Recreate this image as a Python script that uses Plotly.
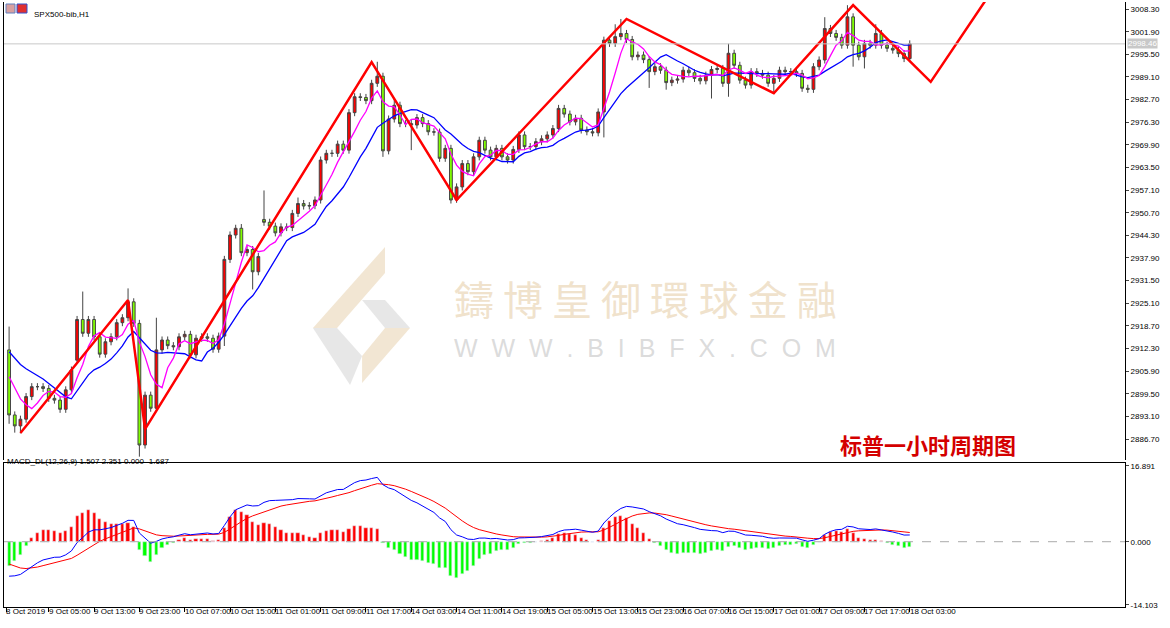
import plotly.graph_objects as go
import pandas as pd
import numpy as np

# ---------------- data ----------------
first_open = 2911.9
closes = [
 2893.5,2890.4,2892.3,2898.7,2901.5,2901.5,2901.0,2898.2,2897.7,2895.1,
 2900.6,2906.2,2920.5,2916.6,2920.5,2915.6,2910.7,2914.2,2915.6,2919.6,
 2921.0,2925.5,2919.4,2885.0,2899.1,2895.4,2911.9,2914.7,2913.1,2912.8,
 2915.6,2916.3,2910.5,2915.2,2915.6,2915.2,2912.1,2915.8,2937.5,2944.4,
 2946.3,2939.4,2940.3,2934.0,2938.3,2948.0,2946.9,2945.0,2946.7,2946.5,
 2950.5,2953.3,2952.6,2952.7,2954.3,2965.6,2967.5,2967.5,2970.1,2968.4,
 2979.0,2983.5,2983.3,2982.4,2987.3,2989.3,2968.2,2977.2,2981.1,2975.9,
 2975.9,2975.5,2977.6,2975.9,2973.6,2973.5,2966.1,2968.9,2954.3,2958.0,
 2964.6,2962.3,2966.5,2971.2,2968.4,2966.5,2968.9,2966.5,2965.6,2968.6,
 2972.7,2969.4,2969.4,2970.8,2971.6,2972.7,2974.5,2980.2,2978.6,2976.4,
 2977.4,2974.1,2973.6,2973.3,2979.2,2999.5,2998.6,3000.5,3001.4,2999.7,
 2994.8,2995.3,2994.0,2990.6,2992.0,2991.0,2987.5,2988.2,2988.5,2991.0,
 2990.3,2988.7,2988.0,2989.6,2991.2,2991.5,2987.3,2995.8,2992.4,2988.2,
 2986.8,2990.6,2990.1,2989.6,2987.3,2988.7,2991.0,2990.6,2990.6,2990.1,
 2985.9,2985.6,2992.0,2993.9,3002.8,3001.4,3000.3,2998.1,3006.1,2998.1,
 2994.8,2998.6,2998.1,3001.4,2998.1,2997.2,2996.7,2995.7,2994.3,2998.46,
]
open_gaps = {45: 2948.8, 12: 2909.0}
high_override = {0: 2918.5, 13: 2928.4, 21: 2929.3, 26: 2921.0, 41: 2947.5, 45: 2957.0,
                 51: 2955.0, 61: 2984.5, 65: 2993.4, 68: 2983.0, 107: 3004.0, 108: 3005.5,
                 127: 2998.5, 144: 3006.0, 148: 3009.4, 153: 3004.0}
low_override = {0: 2891.0, 1: 2888.5, 2: 2888.3, 23: 2881.7, 24: 2884.0, 38: 2913.0,
                43: 2929.0, 66: 2966.5, 71: 2968.4, 78: 2953.3, 79: 2953.5, 105: 2972.0,
                113: 2986.0, 116: 2985.5, 124: 2983.0, 127: 2983.5, 135: 2984.5,
                149: 2992.0, 151: 2991.5}
# EMA states just before the first visible bar (read from the MACD start)
ema12_start = 2897.0
ema26_start = 2905.0
dea_start = -4.3
ma_seed_fast = [2907.0] * 4
ma_seed_slow = [2913.0] * 11
zz_idx = [2, 21, 24, 64, 79, 109, 135, 149, 162.7, 174]
zz_px = [2888.4, 2926.0, 2889.5, 2993.3, 2954.3, 3005.5, 2984.5, 3009.4, 2987.7, 3014.6]
tick_labels = ["8 Oct 2019", "9 Oct 05:00", "9 Oct 13:00", "9 Oct 23:00", "10 Oct 07:00",
               "10 Oct 15:00", "11 Oct 01:00", "11 Oct 09:00", "11 Oct 17:00", "14 Oct 03:00",
               "14 Oct 11:00", "14 Oct 19:00", "15 Oct 05:00", "15 Oct 13:00", "15 Oct 23:00",
               "16 Oct 07:00", "16 Oct 15:00", "17 Oct 01:00", "17 Oct 09:00", "17 Oct 17:00",
               "18 Oct 03:00"]
price_ticks = [2886.7 + 6.4 * k for k in range(20)]
last_price = 2998.46

# ---------------- derived ----------------
n = len(closes)
idx = np.arange(n)
opens = [first_open] + closes[:-1]
for k, v in open_gaps.items():
    opens[k] = v
highs = [max(o, c) + 1.0 for o, c in zip(opens, closes)]
lows = [min(o, c) - 1.0 for o, c in zip(opens, closes)]
for k, v in high_override.items():
    highs[k] = max(v, highs[k] - 1.0)
for k, v in low_override.items():
    lows[k] = min(v, lows[k] + 1.0)
ma_fast = pd.Series(ma_seed_fast + closes).rolling(5).mean().iloc[len(ma_seed_fast):].values
ma_slow = pd.Series(ma_seed_slow + closes).rolling(12).mean().iloc[len(ma_seed_slow):].values
e12, e26, d = ema12_start, ema26_start, dea_start
a12, a26, a9 = 2 / 13, 2 / 27, 2 / 10
dif, dea = [], []
for c in closes:
    e12 += a12 * (c - e12)
    e26 += a26 * (c - e26)
    df_ = e12 - e26
    d += a9 * (df_ - d)
    dif.append(df_)
    dea.append(d)
dif, dea = np.array(dif), np.array(dea)
hist = 2 * (dif - dea)
pos = np.where(hist > 0, hist, 0)
neg = np.where(hist < 0, hist, 0)

fig = go.Figure()
fig.add_trace(go.Scatter(x=idx, y=ma_slow, mode="lines", line=dict(color="#0000FF", width=1.3), yaxis="y"))
fig.add_trace(go.Scatter(x=idx, y=ma_fast, mode="lines", line=dict(color="#FF00FF", width=1.3), yaxis="y"))
fig.add_trace(go.Candlestick(x=idx, open=opens, high=highs, low=lows, close=closes, yaxis="y",
    increasing=dict(fillcolor="#FF0000", line=dict(color="#444444", width=1)),
    decreasing=dict(fillcolor="#80FF00", line=dict(color="#444444", width=1)),
    whiskerwidth=0))
fig.add_trace(go.Scatter(x=zz_idx, y=zz_px, mode="lines", line=dict(color="#FF0000", width=2.5), yaxis="y"))
fig.add_trace(go.Bar(x=idx, y=pos, marker_color="#FF0000", width=0.55, yaxis="y2"))
fig.add_trace(go.Bar(x=idx, y=neg, marker_color="#00FF00", width=0.55, yaxis="y2"))
fig.add_trace(go.Scatter(x=idx, y=dea, mode="lines", line=dict(color="#FF0000", width=1), yaxis="y2"))
fig.add_trace(go.Scatter(x=idx, y=dif, mode="lines", line=dict(color="#0000FF", width=1), yaxis="y2"))

fnt = dict(family="Liberation Sans", size=8, color="#000000")
tickpos = [-0.5] + [7 + 8 * k for k in range(len(tick_labels) - 1)]
W, H = 1170, 628
ml, mr, mt, mb = 4, 45, 2, 21
pw, ph = W - ml - mr, H - mt - mb
def px(x): return (x - ml) / pw
def py(y): return (H - mb - y) / ph

xr = [-0.9, 197.0]
fig.update_layout(
    width=W, height=H, margin=dict(l=ml, r=mr, t=mt, b=mb, autoexpand=False),
    paper_bgcolor="white", plot_bgcolor="white", showlegend=False, bargap=0, barmode="overlay",
    font=fnt,
    xaxis=dict(range=xr, showgrid=False, zeroline=False, rangeslider=dict(visible=False),
               tickvals=tickpos, showticklabels=False, ticks="outside", ticklen=4, tickcolor="#000",
               showline=True, linecolor="#000", linewidth=1, mirror=True, anchor="y2", automargin=False),
    yaxis=dict(domain=[py(460), 1], range=[2880.76, 3010.3], side="right", showgrid=False,
               zeroline=False, tickvals=price_ticks, ticktext=[f"{v:.2f}" for v in price_ticks],
               ticks="outside", ticklen=3, showline=True, linecolor="#000", mirror=True, tickfont=fnt,
               automargin=False),
    yaxis2=dict(domain=[0, py(463)], range=[-14.55, 17.54], side="right", showgrid=False,
                zeroline=False, tickvals=[16.891, 0, -14.103], ticktext=["16.891", "0.000", "-14.103"],
                ticks="outside", ticklen=3, showline=True, linecolor="#000", mirror=True, tickfont=fnt,
                automargin=False),
)
fig.add_hline(y=last_price, line=dict(color="#C8C8C8", width=1), yref="y")
fig.add_hline(y=0, line=dict(color="#AAAAAA", width=1, dash="dash"), yref="y2")

# watermark logo
beige, gray = "rgba(238,222,196,0.75)", "rgba(225,225,225,0.8)"
polys = [([385, 385, 337, 313], [247, 273, 328, 328], beige),
         ([313, 337, 362, 350], [328, 328, 356, 385], gray),
         ([362, 385, 410, 385], [300, 300, 328, 328], gray),
         ([385, 410, 362, 362], [328, 328, 383, 356], beige)]
for xs, ys, c in polys:
    path = "M " + " L ".join(f"{px(a):.4f},{py(b):.4f}" for a, b in zip(xs, ys)) + " Z"
    fig.add_shape(type="path", path=path, xref="paper", yref="paper", fillcolor=c, line_width=0, layer="below")
fig.add_annotation(x=px(645), y=py(298), xref="paper", yref="paper", text="鑄 博 皇 御 環 球 金 融",
                   showarrow=False, font=dict(family="Noto Sans CJK TC", size=40, color="rgba(236,218,190,0.8)"))
fig.add_annotation(x=px(645), y=py(348), xref="paper", yref="paper", text="W  W  W  .  B  I  B  F  X  .  C  O  M",
                   showarrow=False, font=dict(family="Liberation Sans", size=25, color="rgba(215,215,215,0.9)"))
fig.add_annotation(x=px(1018), y=py(446), xref="paper", yref="paper", text="<b>标普一小时周期图</b>",
                   xanchor="right", yanchor="middle", yshift=2, showarrow=False,
                   font=dict(family="Noto Sans CJK SC", size=22, color="#D40000"))
fig.add_annotation(x=px(32), y=py(8), xref="paper", yref="paper", text="SPX500-bib,H1", xanchor="left",
                   showarrow=False, font=fnt)
fig.add_shape(type="rect", xref="paper", yref="paper", x0=px(6), x1=px(15), y0=py(13), y1=py(4),
              fillcolor="#D8A0A0", line=dict(color="#6080C0", width=1))
fig.add_shape(type="rect", xref="paper", yref="paper", x0=px(17), x1=px(27), y0=py(13), y1=py(4),
              fillcolor="#E03030", line=dict(color="#3050D0", width=1))
fig.add_annotation(x=px(5), y=py(468), xref="paper", yref="paper", text="MACD_DL(12,26,9) 1.507 2.351 0.000 -1.687",
                   xanchor="left", showarrow=False, font=fnt)
fig.add_annotation(x=1.0, y=last_price, xref="paper", yref="y", text="2998.46", xanchor="left", xshift=2,
                   showarrow=False, bgcolor="#C8C8C8", borderpad=0,
                   font=dict(family="Liberation Sans", size=8, color="white"))
for t, lab in zip(tickpos, tick_labels):
    fig.add_annotation(x=t, y=py(618), xref="x", yref="paper", text=lab, xanchor="left", showarrow=False,
                       xshift=-2, font=dict(family="Liberation Sans", size=8, color="#000"))
fig.write_html("out.html", config={"displayModeBar": False},
               post_script="document.body.style.margin='0px';document.body.style.overflow='hidden';")
